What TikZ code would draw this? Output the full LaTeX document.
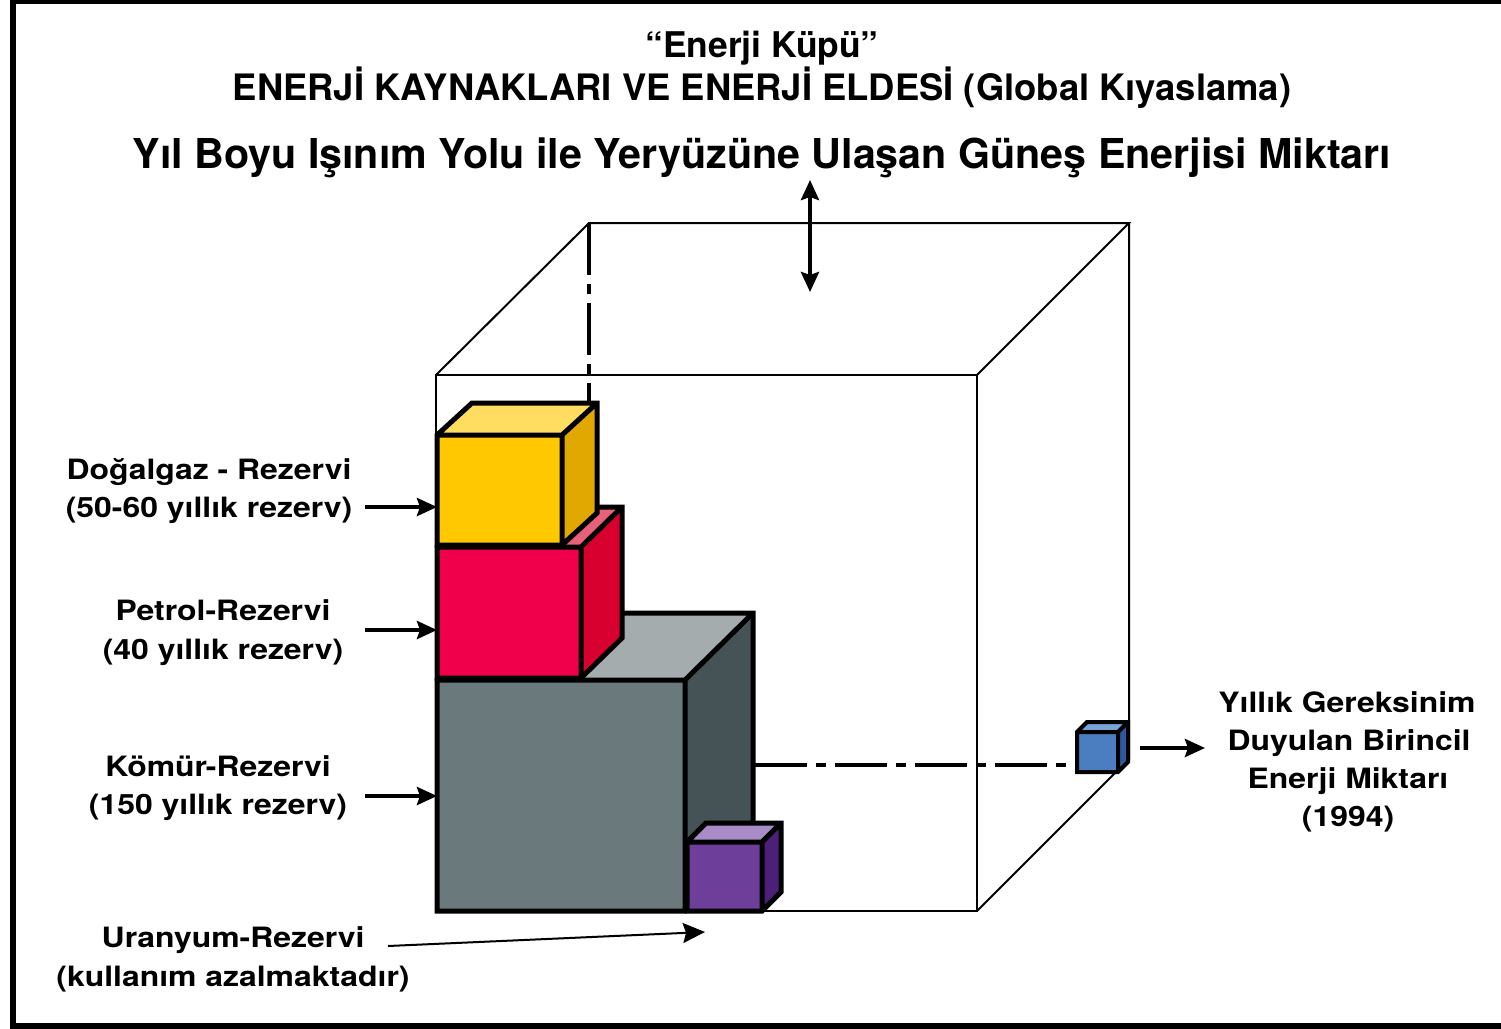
\documentclass[tikz,border=0pt]{standalone}
\usepackage{fontspec}
\setmainfont{TeX Gyre Heros}
\newfontfamily\widefont[FakeStretch=1.14]{TeX Gyre Heros}
\usetikzlibrary{arrows.meta}
\definecolor{yfront}{HTML}{FFC800}\definecolor{ytop}{HTML}{FFDD60}\definecolor{yside}{HTML}{E0A800}
\definecolor{rfront}{HTML}{F0004A}\definecolor{rtop}{HTML}{E8607A}\definecolor{rside}{HTML}{D8002E}
\definecolor{gfront}{HTML}{69797C}\definecolor{gtop}{HTML}{A4ACAE}\definecolor{gside}{HTML}{455357}
\definecolor{pfront}{HTML}{6E3F9A}\definecolor{ptop}{HTML}{A98BC8}\definecolor{pside}{HTML}{4C1F78}
\definecolor{bfront}{HTML}{4A7EC0}\definecolor{btop}{HTML}{7AA3D8}\definecolor{bside}{HTML}{2C5A9C}
\newcommand\isocube[9]{%
 \fill[#8] (#1,#2) -- ++(#5,-#6) -- ++(#3,0) -- ++(-#5,#6) -- cycle;
 \fill[#9] (#1+#3,#2) -- ++(#5,-#6) -- ++(0,#4) -- ++(-#5,#6) -- cycle;
 \fill[#7] (#1,#2) rectangle ++(#3,#4);
 \draw (#1,#2) -- ++(#5,-#6) -- ++(#3,0) -- ++(0,#4) -- ++(-#5,#6) -- ++(-#3,0) -- cycle
   (#1,#2) -- ++(#3,0) -- ++(0,#4)  (#1+#3,#2) -- ++(#5,-#6);
}
\tikzset{
 wire/.style={line width=1pt},
 hidden/.style={line width=2pt, dash pattern=on 26pt off 4.5pt on 5pt off 4.5pt},
 cubeedge/.style={line width=2.5pt},
 bigarrow/.style={line width=2pt, -{Stealth[length=10pt,width=9pt,inset=1.5pt]}},
 label/.style={font=\widefont\bfseries\fontsize{14}{16}\selectfont, anchor=base, inner sep=0pt},
 title/.style={anchor=base, inner sep=0pt},
}
\begin{document}
\begin{tikzpicture}[x=0.5pt,y=-0.5pt]
\useasboundingbox (0,0) rectangle (1501,1029);
\draw[line width=3pt] (13,1) rectangle (1512,1026);
% titles
\node[title, font=\bfseries\fontsize{17.7}{20}\selectfont] (t1) at (762,57) {“Enerji Küpü”};
\node[title, font=\bfseries\fontsize{18.2}{20}\selectfont] (t2) at (762,100) {ENERJİ KAYNAKLARI VE ENERJİ ELDESİ (Global Kıyaslama)};
\node[title, font=\bfseries\fontsize{20.6}{24}\selectfont] (t3) at (762,168) {Yıl Boyu Işınım Yolu ile Yeryüzüne Ulaşan Güneş Enerjisi Miktarı};
% wire cube
\draw[wire] (436,375) rectangle (977,911);
\draw[wire] (436,375) -- (589,223) -- (1129,223) -- (977,375);
\draw[wire] (1129,223) -- (1129,759) -- (977,911);
\draw[hidden] (589,223) -- (589,405);
\coordinate (hl) at (755,765);
\coordinate (hr) at (1077,765);
\draw[hidden] (hl) -- (hr);
% double arrow
\coordinate (da) at (810,180);
\coordinate (db) at (810,292);
\draw[line width=2pt, {Stealth[length=10pt,width=9pt,inset=1.5pt]}-{Stealth[length=10pt,width=9pt,inset=1.5pt]}] (da) -- (db);
% cubes
\begin{scope}[cubeedge]
\isocube{437}{680}{248}{231}{68}{67}{gfront}{gtop}{gside}
\isocube{437}{547}{144}{131}{41}{40}{rfront}{rtop}{rside}
\isocube{437}{435}{125}{110}{35}{32}{yfront}{ytop}{yside}
\isocube{687}{842}{75}{69}{19}{19}{pfront}{ptop}{pside}
\end{scope}
\begin{scope}[line width=2pt]
\isocube{1077}{732}{41}{40}{10}{10}{bfront}{btop}{bside}
\end{scope}
% left labels
\node[label] (d1) at (209,479) {Doğalgaz - Rezervi};
\node[label] (d2) at (209,517) {(50-60 yıllık rezerv)};
\node[label] (p1) at (223,620) {Petrol-Rezervi};
\node[label] (p2) at (223,659) {(40 yıllık rezerv)};
\node[label] (k1) at (218,776) {Kömür-Rezervi};
\node[label] (k2) at (218,814) {(150 yıllık rezerv)};
\node[label] (u1) at (233,947) {Uranyum-Rezervi};
\node[label] (u2) at (233,986) {(kullanım azalmaktadır)};
% right labels
\node[label] (r1) at (1347,712) {Yıllık Gereksinim};
\node[label] (r2) at (1349,750) {Duyulan Birincil};
\node[label] (r3) at (1348,788) {Enerji Miktarı};
\node[label] (r4) at (1348,826) {(1994)};
% arrows
\coordinate (ad) at (365,507); \coordinate (ad2) at (437,507);
\coordinate (ap) at (365,630); \coordinate (ap2) at (437,630);
\coordinate (ak) at (365,796); \coordinate (ak2) at (437,796);
\coordinate (au) at (388,946); \coordinate (au2) at (705,932);
\coordinate (ab) at (1140,748); \coordinate (ab2) at (1205,748);
\draw[bigarrow] (ad) -- (ad2);
\draw[bigarrow] (ap) -- (ap2);
\draw[bigarrow] (ak) -- (ak2);
\draw[line width=1pt, -{Stealth[length=11pt,width=10pt,inset=1.5pt]}] (au) -- (au2);
\draw[bigarrow] (ab) -- (ab2);
\end{tikzpicture}
\end{document}
